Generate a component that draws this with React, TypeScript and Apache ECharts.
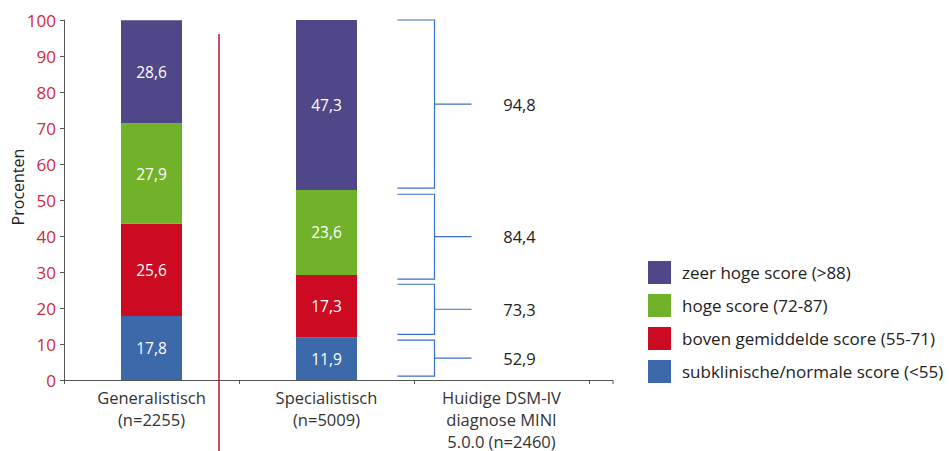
import React, { useEffect, useRef } from "react";
import * as echarts from "echarts";

const categories = ["Generalistisch\n(n=2255)", "Specialistisch\n(n=5009)", "Huidige DSM-IV\ndiagnose MINI\n5.0.0 (n=2460)"];
const seriesNames = [
  "subklinische/normale score (<55)",
  "boven gemiddelde score (55-71)",
  "hoge score (72-87)",
  "zeer hoge score (>88)",
];
const subklinisch = [17.8, 11.9, null];
const bovenGemiddeld = [25.6, 17.3, null];
const hoog = [27.9, 23.6, null];
const zeerHoog = [28.6, 47.3, null];
const seriesValues = [subklinisch, bovenGemiddeld, hoog, zeerHoog];
const colors = ["#3b69a9", "#cc0a22", "#72b22a", "#4f4787"];

const bracketLow = [53.3, 28.0, 12.7, 1.1];
const bracketHigh = [100, 51.6, 26.6, 11.1];
const bracketValues = [94.8, 84.4, 73.3, 52.9];

const yTicks = { min: 0, max: 100, interval: 10 };
const yAxisTitle = "Procenten";

const FONT = "'Open Sans', sans-serif";
const fmt = (v: number) => v.toFixed(1).replace(".", ",");

export default function App() {
  const ref = useRef<HTMLDivElement>(null);
  useEffect(() => {
    if (!ref.current) return;
    const chart = echarts.init(ref.current, undefined, { renderer: "svg" });
    const bracketColor = "#3a6fc4";
    const option: any = {
      animation: false,
      textStyle: { fontFamily: FONT },
      grid: { left: 64, right: 360, top: 20, bottom: 71, containLabel: false, outerBoundsMode: "none" },
      legend: {
        orient: "vertical",
        left: 648,
        top: 261,
        itemWidth: 23,
        itemHeight: 23,
        itemGap: 10,
        icon: "rect",
        padding: 0,
        data: [...seriesNames].reverse(),
        textStyle: { fontSize: 17, color: "#222", fontFamily: FONT, padding: [0, 0, 0, 6] },
      },
      xAxis: {
        type: "category",
        data: categories,
        axisLine: { lineStyle: { color: "#555", width: 1 } },
        axisTick: { show: true, length: 4, lineStyle: { color: "#555" } },
        axisLabel: { interval: 0, fontSize: 16.5, color: "#333", lineHeight: 22, margin: 6, fontFamily: FONT },
      },
      yAxis: {
        type: "value",
        min: yTicks.min,
        max: yTicks.max,
        interval: yTicks.interval,
        splitLine: { show: false },
        axisLine: { show: true, lineStyle: { color: "#555", width: 1 } },
        axisTick: { show: true, length: 4, lineStyle: { color: "#555" } },
        axisLabel: { fontSize: 17, color: "#cf2a3f", margin: 8, fontFamily: FONT },
      },
      series: [
        ...seriesNames.map((name, i) => ({
          name,
          type: "bar",
          stack: "total",
          barWidth: 61,
          data: seriesValues[i],
          itemStyle: { color: colors[i] },
          label: {
            show: true,
            position: "inside",
            color: "#fff",
            fontSize: 15.5,
            fontFamily: FONT,
            formatter: (p: any) => fmt(p.value),
          },
        })),
        {
          type: "custom",
          name: "brackets",
          data: bracketLow.map((lo, i) => [2, lo, bracketHigh[i], bracketValues[i]]),
          encode: { x: 0, y: [1, 2] },
          renderItem: (params: any, api: any) => {
            const x = api.value(0);
            const pLo = api.coord([x, api.value(1)]);
            const pHi = api.coord([x, api.value(2)]);
            const cx = pLo[0];
            const xl = cx - 104;
            const xv = cx - 67;
            const xm = cx - 30;
            const ym = (pLo[1] + pHi[1]) / 2;
            return {
              type: "group",
              children: [
                {
                  type: "polyline",
                  shape: { points: [[xl, pHi[1]], [xv, pHi[1]], [xv, pLo[1]], [xl, pLo[1]]] },
                  style: { stroke: bracketColor, fill: "none", lineWidth: 1.2 },
                },
                {
                  type: "line",
                  shape: { x1: xv, y1: ym, x2: xm, y2: ym },
                  style: { stroke: bracketColor, lineWidth: 1.2 },
                },
                {
                  type: "text",
                  x: cx + 18,
                  y: ym,
                  style: {
                    text: fmt(api.value(3)),
                    textAlign: "center",
                    textVerticalAlign: "middle",
                    fill: "#222",
                    font: `16.5px ${FONT}`,
                  },
                },
              ],
            };
          },
        },
      ],
      graphic: [
        {
          type: "text",
          x: 18,
          y: 187,
          rotation: Math.PI / 2,
          style: {
            text: yAxisTitle,
            textAlign: "center",
            textVerticalAlign: "middle",
            fill: "#222",
            font: `16px ${FONT}`,
          },
        },
        {
          type: "line",
          shape: { x1: 219, y1: 34, x2: 219, y2: 451 },
          style: { stroke: "#c8102e", lineWidth: 1.5 },
          z: 10,
        },
        {
          type: "line",
          shape: { x1: 589, y1: 380.5, x2: 613, y2: 380.5 },
          style: { stroke: "#555", lineWidth: 1 },
        },
        {
          type: "line",
          shape: { x1: 613, y1: 380, x2: 613, y2: 384 },
          style: { stroke: "#555", lineWidth: 1 },
        },
      ],
    };
    chart.setOption(option);
    return () => chart.dispose();
  }, []);
  return <div ref={ref} style={{ position: "absolute", left: 0, top: 0, width: 949, height: 451 }} />;
}
